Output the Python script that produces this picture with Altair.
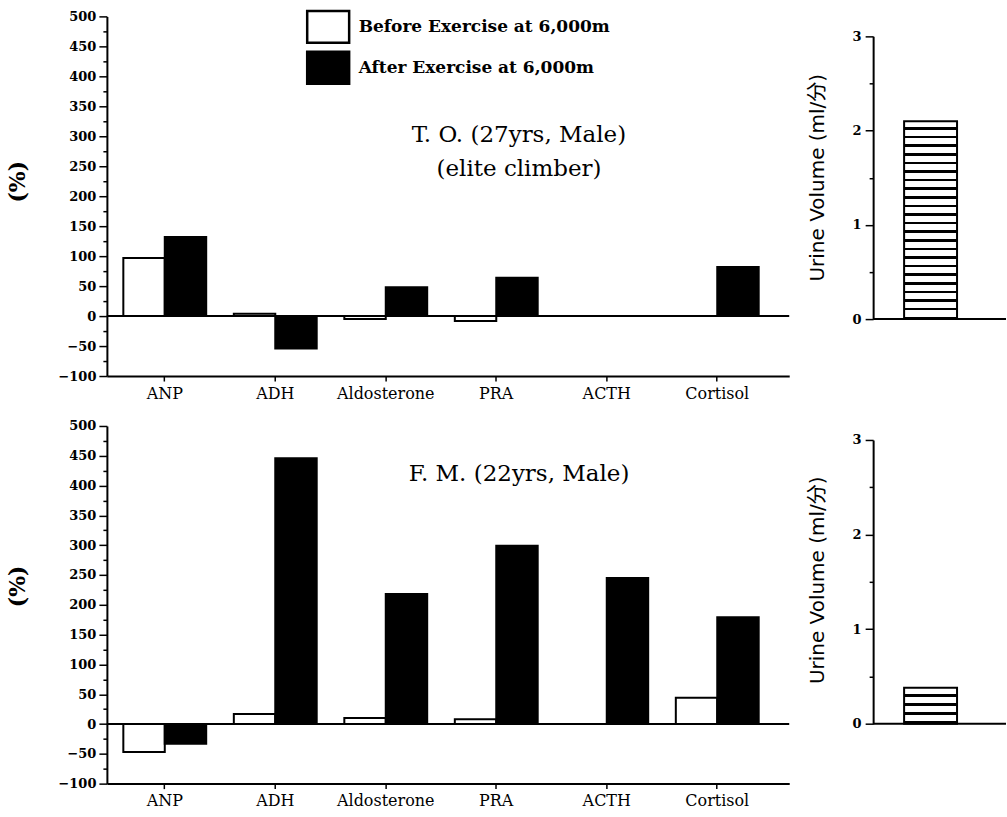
import altair as alt
import pandas as pd

hormones = ["ANP", "ADH", "Aldosterone", "PRA", "ACTH", "Cortisol"]
series = ["Before Exercise at 6,000m", "After Exercise at 6,000m"]
to_before = [97, 4, -5, -8, 0, 0]
to_after = [132, -54, 48, 64, 0, 82]
fm_before = [-47, 17, 10, 8, 0, 44]
fm_after = [-33, 446, 218, 299, 245, 179]
urine_to = [2.1]
urine_fm = [0.38]
pct_ticks = list(range(-100, 501, 25))
urine_ticks = [0, 0.5, 1, 1.5, 2, 2.5, 3]

SERIF = "DejaVu Serif"
SANS = "DejaVu Sans, Noto Sans CJK JP"


def frame(before, after):
    rows = []
    for h, b, a in zip(hormones, before, after):
        rows.append({"hormone": h, "series": series[0], "value": b})
        rows.append({"hormone": h, "series": series[1], "value": a})
    return pd.DataFrame(rows)


legend = alt.Legend(
    title=None, orient="none", legendX=204, legendY=-7, padding=0,
    symbolType="M-1.3125,-1H1.3125V1H-1.3125Z", symbolSize=1024,
    symbolStrokeColor="black", symbolStrokeWidth=2.5, symbolOpacity=1,
    rowPadding=-2, labelOffset=13, labelFont=SERIF, labelFontSize=17,
    labelFontWeight="bold", labelColor="black", labelLimit=400,
)


def pct_panel(before, after, title_lines, title_offset, ytitle_y, height):
    df = frame(before, after)
    yscale = alt.Scale(domain=[-100, 500], nice=False, zero=False)
    yaxis = alt.Axis(
        values=pct_ticks, title="(%)", titleFont=SERIF, titleFontSize=22,
        titleFontWeight="bold", titleColor="black", titleX=-89, titleY=ytitle_y,
        titleAngle=-90, titleAlign="center", titleBaseline="middle",
        labelExpr="datum.value % 50 == 0 ? datum.label : ''",
        labelFont=SERIF, labelFontSize=13, labelFontWeight="bold",
        labelPadding=3,
        tickSize={"condition": {"test": "datum.value % 50 == 0", "value": 8}, "value": 4},
    )
    xaxis = alt.Axis(title=None, labelAngle=0, labelFont=SERIF, labelFontSize=16,
                     labelPadding=4, tickSize=5)
    bars = alt.Chart(df).mark_bar(stroke="black", strokeWidth=2).encode(
        x=alt.X("hormone:N", sort=hormones,
                scale=alt.Scale(paddingInner=0.25, paddingOuter=0.2125, align=0.35),
                axis=xaxis),
        xOffset=alt.XOffset("series:N", sort=series,
                            scale=alt.Scale(domain=series, paddingInner=0, paddingOuter=0)),
        y=alt.Y("value:Q", scale=yscale, axis=yaxis),
        color=alt.Color("series:N", sort=series,
                        scale=alt.Scale(domain=series, range=["white", "black"]),
                        legend=legend),
    )
    zero = alt.Chart(pd.DataFrame({"value": [0]})).mark_rule(
        color="black", strokeWidth=2).encode(y=alt.Y("value:Q", scale=yscale, axis=yaxis))
    return alt.layer(bars, zero).properties(
        width=683, height=height,
        title=alt.TitleParams(
            text=title_lines, anchor="middle", frame="group", dx=71,
            offset=title_offset, baseline="top", font=SERIF, fontSize=23,
            fontWeight="normal", color="black", lineHeight=34,
        ),
    )


def stripes(n, frac):
    stops = []
    for k in range(n):
        a = k / n
        m = a + (1 - frac) / n
        b = (k + 1) / n
        stops += [
            alt.GradientStop(color="white", offset=a),
            alt.GradientStop(color="white", offset=m),
            alt.GradientStop(color="black", offset=m),
            alt.GradientStop(color="black", offset=b),
        ]
    return alt.Gradient(gradient="linear", x1=0, y1=0, x2=0, y2=1, stops=stops)


def urine_panel(val, label, n_stripes, ytitle_y, height, yrange):
    df = pd.DataFrame({"subject": [label], "urine": val})
    yscale = alt.Scale(domain=[0, 3], range=yrange, nice=False)
    yaxis = alt.Axis(
        values=urine_ticks, title="Urine Volume (ml/分)", titleFont=SANS,
        titleFontSize=20, titleFontWeight="normal", titleColor="black",
        titleX=-56, titleY=ytitle_y, titleAngle=-90, titleAlign="center",
        titleBaseline="middle",
        labelExpr="datum.value % 1 == 0 ? '' + datum.value : ''",
        labelFont=SERIF, labelFontSize=13, labelFontWeight="bold",
        labelPadding=4,
        tickSize={"condition": {"test": "datum.value % 1 == 0", "value": 8}, "value": 4},
    )
    bar = alt.Chart(df).mark_bar(fill=stripes(n_stripes, 0.3), stroke="black",
                                 strokeWidth=2).encode(
        x=alt.X("subject:N",
                scale=alt.Scale(paddingInner=0, paddingOuter=0.755, align=0.3875),
                axis=None),
        y=alt.Y("urine:Q", scale=yscale, axis=yaxis),
    )
    base = alt.Chart(pd.DataFrame({"urine": [0]})).mark_rule(
        color="black", strokeWidth=2).encode(y=alt.Y("urine:Q", scale=yscale, axis=yaxis))
    return alt.layer(bar, base).properties(width=133, height=height)


lt = pct_panel(to_before, to_after, ["T. O. (27yrs, Male)", "(elite climber)"], -171, 165, 360)
lb = pct_panel(fm_before, fm_after, ["F. M. (22yrs, Male)"], -66, 160, 358)
rt = urine_panel(urine_to, "T.O.", 23, 161, 360, [303, 20])
rb = urine_panel(urine_fm, "F.M.", 4, 154, 358, [298, 14])

chart = alt.concat(
    lt, rt, lb, rb, columns=2, spacing={"row": 50, "column": 84},
    bounds="flush", align="each",
).properties(
    padding={"left": 7, "top": 9, "right": 0, "bottom": 0}, background="white"
).configure_view(strokeOpacity=0).configure_axis(
    domainColor="black", domainWidth=2, tickColor="black", tickWidth=1.5,
    labelColor="black", grid=False,
)

chart.save("out.html", embed_options={"renderer": "svg", "actions": False})
